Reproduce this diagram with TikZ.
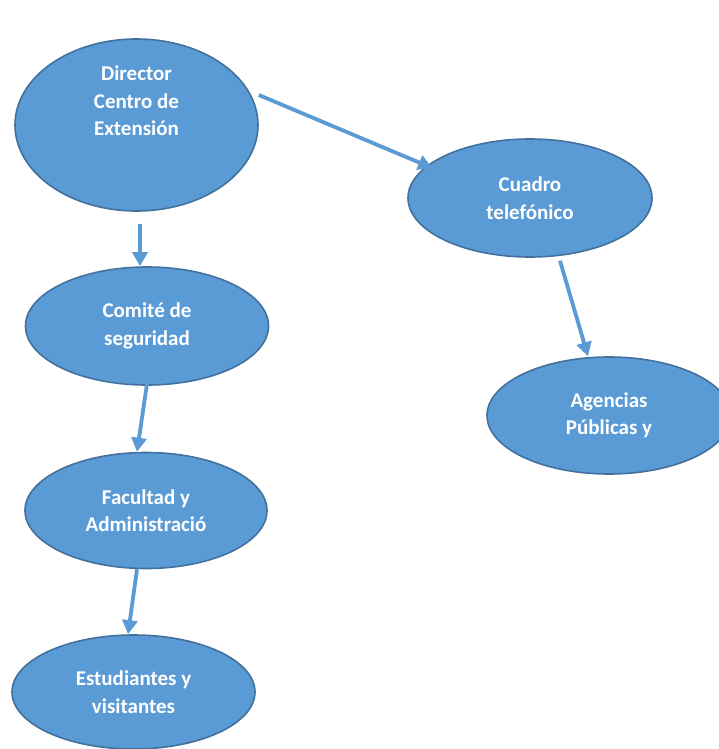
\documentclass[tikz,border=0pt]{standalone}
\usepackage{fontspec}
\setmainfont{Carlito}
\usetikzlibrary{shapes.geometric,arrows.meta}
\definecolor{fillblue}{HTML}{5B9BD5}
\definecolor{edgeblue}{HTML}{41719C}
\begin{document}
\begin{tikzpicture}[x=1pt,y=-1pt,
  bubble/.style={ellipse,draw=edgeblue,line width=1.6pt,fill=fillblue,inner sep=0pt,
    text=white,align=center,font=\bfseries\fontsize{21}{27.5}\selectfont},
  lbl/.style={text=white,align=center,inner sep=0pt,font=\bfseries\fontsize{21}{27.5}\selectfont},
  arr/.style={draw=fillblue,line width=3.8pt,-{Triangle[width=15pt,length=14pt]}}]
\useasboundingbox (0,0) rectangle (719,749);
\fill[white] (0,0) rectangle (719,749);
\node[bubble,minimum width=243pt,minimum height=172pt] (dir) at (136.5,125) {};
\node[lbl] (dirt) at ([yshift=24pt]dir.center) {Director\\Centro de\\Extensión};
\node[bubble,minimum width=244pt,minimum height=118pt] (cua) at (530,198) {Cuadro\\telefónico};
\node[bubble,minimum width=243pt,minimum height=118pt] (com) at (147,326) {Comité de\\seguridad};
\node[bubble,minimum width=244pt,minimum height=117pt] (agn) at (609,415.5) {Agencias\\Públicas y};
\node[bubble,minimum width=242pt,minimum height=116pt] (fac) at (146,510.5) {Facultad y\\Administració};
\node[bubble,minimum width=243pt,minimum height=114pt] (est) at (133.5,692) {Estudiantes y\\visitantes};
\draw[arr] ([yshift=30pt]dir.east) -- ([xshift=25pt,yshift=30pt]cua.west);
\draw[arr] ([xshift=3.5pt,yshift=-12pt]dir.south) -- ([xshift=-7pt]com.north);
\draw[arr] ([yshift=2pt]com.south) -- ([xshift=-9pt]fac.north);
\draw[arr] ([xshift=30pt,yshift=-3pt]cua.south) -- ([xshift=-21pt]agn.north);
\draw[arr] ([xshift=-9pt]fac.south) -- ([xshift=-5.5pt]est.north);
\end{tikzpicture}
\end{document}
